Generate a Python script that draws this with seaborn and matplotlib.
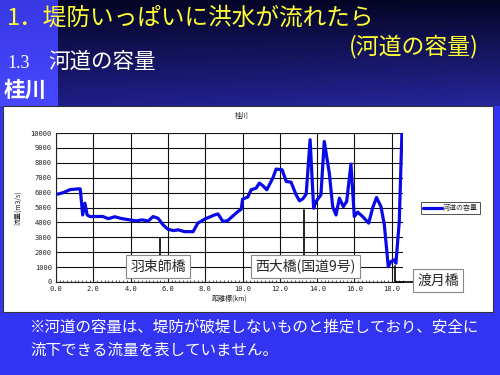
import numpy as np
import matplotlib
matplotlib.use("Agg")
import matplotlib.pyplot as plt
import matplotlib.patches as mpatches
from matplotlib.ticker import MultipleLocator, FormatStrFormatter
import seaborn as sns
import pandas as pd

# ---- data ----
distance_km = [0.1, 0.4, 0.75, 1.2, 1.3, 1.43, 1.55, 1.67, 1.82, 2.5, 2.8, 3.15, 3.5, 3.95,
               4.3, 4.6, 4.95, 5.2, 5.47, 5.74, 6.0, 6.3, 6.55, 6.9, 7.35, 7.6, 7.97, 8.5,
               8.68, 8.95, 9.2, 9.75, 9.93, 10.0, 10.28, 10.46, 10.73, 10.9, 11.09, 11.3,
               11.62, 11.8, 12.12, 12.34, 12.6, 12.87, 13.05, 13.23, 13.41, 13.62, 13.81,
               13.94, 14.2, 14.38, 14.65, 14.83, 15.01, 15.19, 15.4, 15.58, 15.81, 15.99,
               16.17, 16.44, 16.76, 16.97, 17.18, 17.42, 17.6, 17.81, 17.95, 18.13, 18.22,
               18.4, 18.54]
capacity = [5900, 6000, 6200, 6250, 6250, 4500, 5290, 4500, 4390, 4400, 4250, 4380, 4260, 4170,
            4100, 4170, 4100, 4390, 4280, 3830, 3540, 3450, 3500, 3380, 3380, 3950, 4220, 4500,
            4570, 4060, 4120, 4730, 4890, 5560, 5700, 6190, 6300, 6640, 6460, 6190,
            6970, 7580, 7530, 6750, 6700, 5850, 5450, 5580, 5900, 9550, 4950,
            5400, 5850, 9430, 7310, 5060, 4500, 5630, 5060, 5400, 7910, 4390,
            4690, 4390, 3950, 4960, 5670, 5060, 3830, 1030, 1370, 1480, 1260,
            4060, 9930]
series_name = "河道の容量"
x_ticks = [0, 2, 4, 6, 8, 10, 12, 14, 16, 18]
y_ticks = [0, 1000, 2000, 3000, 4000, 5000, 6000, 7000, 8000, 9000, 10000]
bridges = ["羽束師橋", "西大橋(国道9号)", "渡月橋"]

df = pd.DataFrame({"距離標": distance_km, "流量": capacity})

sns.set_theme(style="white")
CJK = ["Noto Sans CJK JP", "DejaVu Sans"]
plt.rcParams["font.family"] = CJK

W, H = 500, 375
fig = plt.figure(figsize=(5, 3.75), dpi=100)

# ---- background ----
yy, xx = np.mgrid[0:H, 0:W]
img = np.zeros((H, W, 3))
blue = np.array([0.2, 0.2, 0.95])
img[:] = blue
top = yy < 106
t = np.clip(yy / 105.0, 0, 1)
s = np.clip((xx - 58) / 440.0, 0, 1)
dark = np.stack([0.02 + 0.10 * t + 0.03 * s * t,
                 0.02 + 0.10 * t + 0.03 * s * t,
                 0.15 + 0.38 * t + 0.08 * s * t], axis=-1)
mask_dark = top & (xx >= 58)
img[mask_dark] = dark[mask_dark]
mask_left = top & (xx < 58)
lt = t[mask_left][:, None]
img[mask_left] = np.array([0.22, 0.22, 0.9]) + lt * np.array([0.06, 0.06, 0.1])
bg = fig.add_axes([0, 0, 1, 1])
bg.imshow(img, aspect="auto", extent=[0, W, H, 0], interpolation="bilinear")
bg.set_xlim(0, W)
bg.set_ylim(H, 0)
bg.axis("off")
bg.add_patch(mpatches.Rectangle((3, 106), 490, 206, facecolor="white",
                                edgecolor="#333333", linewidth=0.8))

def fx(px):
    return px / W

def fy(py):
    return 1 - py / H

# ---- headings ----
fig.text(fx(7), fy(18), "1．堤防いっぱいに洪水が流れたら", color="#ffff33",
         fontsize=17, va="center", ha="left")
fig.text(fx(479), fy(47), "(河道の容量)", color="#ffff33",
         fontsize=16.5, va="center", ha="right")
fig.text(fx(7), fy(63), "1.3", color="white", fontsize=13, va="center", ha="left",
         family=["Liberation Serif"])
fig.text(fx(48), fy(62), "河道の容量", color="white", fontsize=15.5, va="center", ha="left")
fig.text(fx(4), fy(90), "桂川", color="white", fontsize=15.5, va="center", ha="left",
         fontweight="bold")
fig.text(fx(30), fy(327), "※河道の容量は、堤防が破堤しないものと推定しており、安全に",
         color="white", fontsize=11.2, va="center", ha="left")
fig.text(fx(30), fy(350), "流下できる流量を表していません。",
         color="white", fontsize=11.2, va="center", ha="left")

# ---- chart ----
L, R, T, B = 56, 403, 133, 282
ax = fig.add_axes([fx(L), fy(B), (R - L) / W, (B - T) / H])
ax.set_facecolor("white")
sns.lineplot(data=df, x="距離標", y="流量", ax=ax, color="#0a0ae6", linewidth=2.3,
             sort=False, estimator=None, label=series_name, zorder=5)
ax.set_xlim(0, 18.6)
ax.set_ylim(0, 10000)
ax.set_xticks(x_ticks)
ax.set_yticks(y_ticks)
ax.xaxis.set_minor_locator(MultipleLocator(0.2))
ax.xaxis.set_major_formatter(FormatStrFormatter("%.1f"))
ax.grid(True, which="major", color="#111111", linewidth=0.8)
for side in ["top", "right"]:
    ax.spines[side].set_visible(False)
for side in ["left", "bottom"]:
    ax.spines[side].set_color("#222222")
    ax.spines[side].set_linewidth(0.8)
ax.tick_params(axis="both", which="major", direction="in", length=3, width=0.6,
               labelsize=5, pad=3, colors="#222222", bottom=True, left=True)
ax.tick_params(axis="x", which="minor", direction="in", length=1.5, width=0.5,
               bottom=True, colors="#222222")
for lab in ax.get_xticklabels() + ax.get_yticklabels():
    lab.set_family(["DejaVu Sans Mono"])
    lab.set_color("#222222")
ax.set_xlabel("距離標(km)", fontsize=5, labelpad=2, color="#222222")
ax.set_ylabel("流量(m3/s)", fontsize=5, labelpad=6, color="#222222")
fig.text(fx(242), fy(116), "桂川", fontsize=5, ha="center", va="center", color="#222222")

leg = ax.legend(loc="center left", bbox_to_anchor=(fx(421), fy(208)),
                bbox_transform=fig.transFigure, fontsize=5, frameon=True,
                fancybox=False, borderpad=0.25, handlelength=2.8, handletextpad=0.1,
                borderaxespad=0)
leg.get_frame().set_edgecolor("#222222")
leg.get_frame().set_linewidth(0.7)

# ---- bridge annotations ----
box = dict(boxstyle="square,pad=0.3", facecolor="white", edgecolor="#888888", linewidth=0.8)
ax.plot([5.56, 5.56], [2980, 1700], color="black", linewidth=1.2, zorder=6)
ax.text(5.48, 1030, bridges[0], fontsize=10, ha="center", va="center", bbox=box, zorder=7)
ax.plot([13.32, 13.32], [4840, 1750], color="black", linewidth=1.2, zorder=6)
ax.text(13.37, 1055, bridges[1], fontsize=10, ha="center", va="center", bbox=box, zorder=7)
ax.plot([18.15, 18.15, 21.0], [1100, 20, 20], color="black", linewidth=1.2,
        zorder=6, clip_on=False)
ax.text(20.5, 100, bridges[2], fontsize=10, ha="center", va="center", bbox=box,
        zorder=7, clip_on=False)

fig.savefig("out.png", dpi=100)
